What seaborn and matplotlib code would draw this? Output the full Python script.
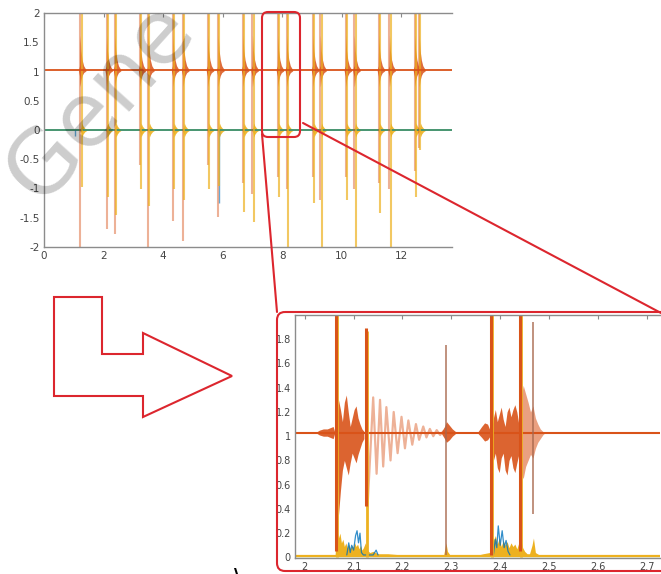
import numpy as np
import matplotlib
matplotlib.use("Agg")
import matplotlib.pyplot as plt
import seaborn as sns
from matplotlib.patches import FancyBboxPatch, Polygon
from matplotlib.lines import Line2D
from matplotlib.ticker import FuncFormatter

sns.set_theme(style="white")
plt.rcParams["font.family"] = ["DejaVu Sans"]
plt.rcParams["axes.unicode_minus"] = False

BLUE = "#0072BD"
ORANGE = "#D95319"
YELLOW = "#EDB120"
GREEN = "#77AC30"
BROWN = "#A8684E"
RED = "#DC262E"

# ---------------- full recording (top plot) ----------------
main_xlim = [0.0, 13.7]
main_ylim = [-2.0, 2.0]
main_xticks = [0, 2, 4, 6, 8, 10, 12]
main_yticks = [-2, -1.5, -1, -0.5, 0, 0.5, 1, 1.5, 2]
orange_level = 1.02
zero_level = 0.0
spike_top = 2.3  # every spike runs past the top of the axes

orange_spike_t = [1.21, 2.10, 2.38, 3.22, 3.50, 4.33, 4.67, 5.50, 5.85, 6.68, 7.00,
                  7.85, 8.15, 9.03, 9.28, 10.13, 10.42, 11.24, 11.60, 12.45, 12.60]
orange_spike_low = [-2.3, -1.70, -1.77, -0.60, -2.3, -1.55, -1.90, -0.60, -1.48, -0.90, -1.10,
                    -0.80, -1.00, -0.80, -1.20, -0.80, -1.00, -0.90, -1.00, -0.70, -0.30]
yellow_spike_t = [1.27, 2.14, 2.42, 3.26, 3.54, 4.37, 4.71, 5.54, 5.89, 6.72, 7.04,
                  7.89, 8.19, 9.07, 9.32, 10.17, 10.46, 11.28, 11.64, 12.49, 12.64]
yellow_spike_low = [-0.97, -1.15, -1.45, -1.00, -1.30, -1.00, -1.20, -1.00, -0.95, -1.40, -1.57,
                    -1.15, -2.3, -1.25, -2.3, -1.20, -2.3, -1.42, -2.3, -1.15, -0.35]
blue_spike_t = [1.04, 5.88]
blue_spike_low = [-0.10, -1.25]

# ringing envelope that follows each orange spike (time offset, upper, lower)
ring_dt = [-0.05, -0.015, 0.0, 0.03, 0.07, 0.12, 0.20]
ring_hi = [1.03, 1.10, 1.62, 1.36, 1.20, 1.10, 1.03]
ring_lo = [1.01, 0.92, 0.74, 0.85, 0.93, 0.98, 1.01]
# burst around zero that follows each yellow spike
burst_dt = [-0.06, -0.02, 0.0, 0.04, 0.10, 0.16]
burst_hi = [0.01, 0.05, 0.12, 0.07, 0.03, 0.01]
burst_lo = [-0.01, -0.05, -0.12, -0.07, -0.03, -0.01]

# ---------------- zoomed window (bottom plot) ----------------
zoom_xlim = [1.98, 2.727]
zoom_ylim = [-0.005, 2.0]
zoom_xticks = [2.0, 2.1, 2.2, 2.3, 2.4, 2.5, 2.6, 2.7]
zoom_yticks = [0, 0.2, 0.4, 0.6, 0.8, 1.0, 1.2, 1.4, 1.6, 1.8]
z_orange_level = 1.03
z_yellow_level = 0.012

blob1_t = [2.022, 2.030, 2.038, 2.046, 2.052, 2.058, 2.061]
blob1_hi = [1.03, 1.05, 1.06, 1.06, 1.07, 1.08, 1.04]
blob1_lo = [1.03, 1.01, 1.00, 1.00, 0.99, 0.98, 1.02]

burstA_t = [2.066, 2.069, 2.073, 2.077, 2.081, 2.085, 2.089, 2.093, 2.097, 2.101, 2.105, 2.109, 2.113, 2.117, 2.121]
burstA_hi = [1.10, 1.30, 1.22, 1.12, 1.28, 1.34, 1.20, 1.08, 1.15, 1.22, 1.25, 1.15, 1.10, 1.06, 1.04]
burstA_lo = [0.90, 0.35, 0.55, 0.72, 0.80, 0.74, 0.68, 0.78, 0.86, 0.82, 0.78, 0.85, 0.90, 0.95, 0.98]

ring_t = [2.1285, 2.140, 2.147, 2.154, 2.1605, 2.167, 2.1755, 2.182, 2.190, 2.198, 2.205, 2.212,
          2.220, 2.2275, 2.234, 2.2425, 2.249, 2.256, 2.263, 2.270, 2.277, 2.2835, 2.290]
ring_v = [0.42, 1.32, 0.69, 1.30, 0.75, 1.24, 0.80, 1.20, 0.86, 1.16, 0.90, 1.13,
          0.93, 1.10, 0.97, 1.08, 0.99, 1.06, 1.00, 1.05, 1.01, 1.04, 1.03]

blob2_t = [2.280, 2.286, 2.290, 2.296, 2.302, 2.308]
blob2_hi = [1.04, 1.08, 1.12, 1.09, 1.06, 1.04]
blob2_lo = [1.02, 0.98, 0.95, 0.97, 1.00, 1.02]

blob3_t = [2.355, 2.362, 2.368, 2.374, 2.379]
blob3_hi = [1.04, 1.08, 1.11, 1.10, 1.05]
blob3_lo = [1.02, 0.99, 0.96, 0.97, 1.00]

burstB_t = [2.382, 2.386, 2.390, 2.394, 2.398, 2.402, 2.406, 2.410, 2.414, 2.418, 2.422, 2.426, 2.430, 2.434, 2.438]
burstB_hi = [1.05, 1.15, 1.22, 1.12, 1.18, 1.24, 1.14, 1.08, 1.20, 1.24, 1.16, 1.22, 1.26, 1.20, 1.10]
burstB_lo = [0.90, 0.80, 0.86, 0.74, 0.70, 0.82, 0.86, 0.72, 0.68, 0.80, 0.84, 0.74, 0.70, 0.78, 0.85]

burstC_t = [2.442, 2.447, 2.452, 2.457, 2.462, 2.467, 2.472, 2.477, 2.482, 2.487, 2.492]
burstC_hi = [1.30, 1.42, 1.35, 1.28, 1.20, 1.25, 1.15, 1.10, 1.06, 1.04, 1.03]
burstC_lo = [0.70, 0.65, 0.75, 0.80, 0.85, 0.82, 0.90, 0.95, 0.98, 1.01, 1.03]

z_spike_t = [2.063, 2.1255, 2.3805, 2.4405]
z_spike_top = [2.10, 1.89, 2.10, 2.10]
z_spike_low = [0.05, 0.42, 0.02, 0.05]
z_thin_t = [2.290, 2.467]
z_thin_top = [1.75, 1.94]
z_thin_low = [0.02, 0.36]
z_yspike_t = [2.066, 2.128, 2.383, 2.443]
z_yspike_top = [2.10, 1.87, 2.10, 2.10]

yA_t = [2.062, 2.066, 2.069, 2.072, 2.075, 2.078, 2.081, 2.084, 2.087, 2.090, 2.093, 2.096, 2.099,
        2.102, 2.105, 2.108, 2.111, 2.114, 2.117, 2.120, 2.124, 2.128, 2.133, 2.140, 2.150, 2.170,
        2.200, 2.230]
yA_v = [0.02, 0.22, 0.16, 0.20, 0.12, 0.15, 0.09, 0.12, 0.08, 0.11, 0.07, 0.10, 0.08, 0.12, 0.09,
        0.11, 0.07, 0.10, 0.06, 0.08, 0.12, 0.06, 0.04, 0.05, 0.03, 0.03, 0.02, 0.015]
yB_t = [2.350, 2.365, 2.378, 2.382, 2.386, 2.390, 2.394, 2.398, 2.402, 2.406, 2.410, 2.414, 2.418,
        2.422, 2.426, 2.430, 2.434, 2.438, 2.442, 2.446, 2.450, 2.455, 2.460, 2.465, 2.468, 2.472, 2.480]
yB_v = [0.015, 0.03, 0.04, 0.20, 0.14, 0.18, 0.11, 0.16, 0.09, 0.14, 0.10, 0.13, 0.08, 0.12, 0.09,
        0.11, 0.07, 0.12, 0.15, 0.08, 0.05, 0.03, 0.03, 0.10, 0.16, 0.04, 0.02]
yC_t = [2.284, 2.289, 2.292, 2.298]
yC_v = [0.015, 0.12, 0.05, 0.015]

blueA_t = [2.086, 2.090, 2.093, 2.096, 2.100, 2.104, 2.107, 2.110, 2.113, 2.116, 2.120, 2.140, 2.146, 2.150]
blueA_v = [0.02, 0.12, 0.04, 0.10, 0.06, 0.18, 0.22, 0.12, 0.20, 0.04, 0.02, 0.02, 0.06, 0.02]
blueB_t = [2.386, 2.390, 2.393, 2.396, 2.400, 2.404, 2.408, 2.412, 2.416, 2.420]
blueB_v = [0.02, 0.15, 0.08, 0.26, 0.10, 0.22, 0.08, 0.14, 0.05, 0.02]

W, H = 661, 574
fig = plt.figure(figsize=(W / 100, H / 100), dpi=100)
fig.patch.set_facecolor("white")


def px_box(left, top, right, bottom):
    return [left / W, 1 - bottom / H, (right - left) / W, (bottom - top) / H]


ax = fig.add_axes(px_box(44, 13, 452, 247))
axz = fig.add_axes(px_box(295, 315, 660, 558))

fmt = FuncFormatter(lambda v, p: f"{v:g}")

# ---- full recording ----
sns.lineplot(x=main_xlim, y=[zero_level, zero_level], color=BLUE, lw=1.3, ax=ax)
sns.lineplot(x=main_xlim, y=[zero_level, zero_level], color=GREEN, lw=1.3, alpha=0.6, ax=ax)
ax.vlines(blue_spike_t, blue_spike_low, 0, color=BLUE, lw=1.0, alpha=0.6)
ax.vlines(orange_spike_t, orange_spike_low, spike_top, color=ORANGE, lw=1.5, alpha=0.45)
ax.vlines(yellow_spike_t, yellow_spike_low, spike_top, color=YELLOW, lw=1.5, alpha=0.7)
for t in yellow_spike_t:
    ax.fill_between(np.add(t, burst_dt), burst_lo, burst_hi, color=YELLOW, alpha=0.9, lw=0)
sns.lineplot(x=main_xlim, y=[orange_level, orange_level], color=ORANGE, lw=1.3, ax=ax)
for t in orange_spike_t:
    ax.fill_between(np.add(t, ring_dt), ring_lo, ring_hi, color=ORANGE, alpha=0.85, lw=0)

ax.set_xlim(main_xlim)
ax.set_ylim(main_ylim)
ax.set_xticks(main_xticks)
ax.set_yticks(main_yticks)

# ---- zoomed window ----
sns.lineplot(x=zoom_xlim, y=[z_yellow_level - 0.004] * 2, color=GREEN, lw=1.0, alpha=0.6, ax=axz)
sns.lineplot(x=zoom_xlim, y=[z_yellow_level] * 2, color=YELLOW, lw=1.6, ax=axz)
sns.lineplot(x=zoom_xlim, y=[z_orange_level] * 2, color=ORANGE, lw=1.5, ax=axz)

for bt, bh, bl in [(blob1_t, blob1_hi, blob1_lo), (blob2_t, blob2_hi, blob2_lo),
                   (blob3_t, blob3_hi, blob3_lo), (burstA_t, burstA_hi, burstA_lo),
                   (burstB_t, burstB_hi, burstB_lo)]:
    axz.fill_between(bt, bl, bh, color=ORANGE, alpha=0.9, lw=0)
axz.fill_between(burstC_t, burstC_lo, burstC_hi, color=ORANGE, alpha=0.55, lw=0)
sns.lineplot(x=ring_t, y=ring_v, sort=False, estimator=None, color=ORANGE, lw=1.6, alpha=0.45, ax=axz)

for yt, yv in [(yA_t, yA_v), (yB_t, yB_v), (yC_t, yC_v)]:
    axz.fill_between(yt, z_yellow_level, yv, color=YELLOW, lw=0)
sns.lineplot(x=blueA_t, y=blueA_v, sort=False, estimator=None, color=BLUE, lw=0.9, alpha=0.8, ax=axz)
sns.lineplot(x=blueB_t, y=blueB_v, sort=False, estimator=None, color=BLUE, lw=0.9, alpha=0.8, ax=axz)

axz.vlines(z_yspike_t, 0, z_yspike_top, color=YELLOW, lw=2.0)
axz.vlines(z_spike_t, z_spike_low, z_spike_top, color=ORANGE, lw=2.2)
axz.vlines(z_thin_t, z_thin_low, z_thin_top, color=BROWN, lw=1.2, alpha=0.85)

axz.set_xlim(zoom_xlim)
axz.set_ylim(zoom_ylim)
axz.set_xticks(zoom_xticks)
axz.set_yticks(zoom_yticks)

for a, size in [(ax, 7.5), (axz, 7.0)]:
    a.set_facecolor("white")
    a.xaxis.set_major_formatter(fmt)
    a.yaxis.set_major_formatter(fmt)
    a.tick_params(direction="in", length=3, width=0.8, colors="#8a8a8a",
                  labelcolor="#444444", labelsize=size, pad=3, top=True)
    for side in ["left", "bottom", "top"]:
        a.spines[side].set_color("#8c8c8c")
        a.spines[side].set_linewidth(1.0)
    a.spines["right"].set_visible(False)
    a.set_xlabel("")
    a.set_ylabel("")
    legend = a.get_legend()
    if legend is not None:
        legend.remove()

# ---- overlay: zoom marker, connectors, arrow, watermark (pixel coordinates) ----
ov = fig.add_axes([0, 0, 1, 1], zorder=10)
ov.set_xlim(0, W)
ov.set_ylim(H, 0)
ov.axis("off")
ov.patch.set_alpha(0)

ov.add_patch(FancyBboxPatch((262, 12), 38, 125, boxstyle="round,pad=0,rounding_size=6",
                            fill=False, ec=RED, lw=1.5))
ov.add_patch(FancyBboxPatch((277, 312), 420, 259, boxstyle="round,pad=0,rounding_size=8",
                            fill=False, ec=RED, lw=1.5))
ov.add_line(Line2D([262, 277], [134, 312], color=RED, lw=1.5))
ov.add_line(Line2D([303, 661], [123, 313], color=RED, lw=1.5))
arrow_pts = [(54, 297), (102, 297), (102, 354), (143, 354), (143, 333), (232, 376),
             (143, 417), (143, 396), (54, 396)]
ov.add_patch(Polygon(arrow_pts, closed=True, fill=False, ec=RED, lw=1.5, joinstyle="miter"))

ov.text(40, 205, "Gene", rotation=48, rotation_mode="anchor", ha="left", va="baseline",
        fontsize=64, color="black", alpha=0.2)
ov.text(238, 576, "\\", fontsize=14, fontweight="bold", color="black", ha="center", va="center")

fig.savefig("out.png", dpi=100, facecolor="white")
